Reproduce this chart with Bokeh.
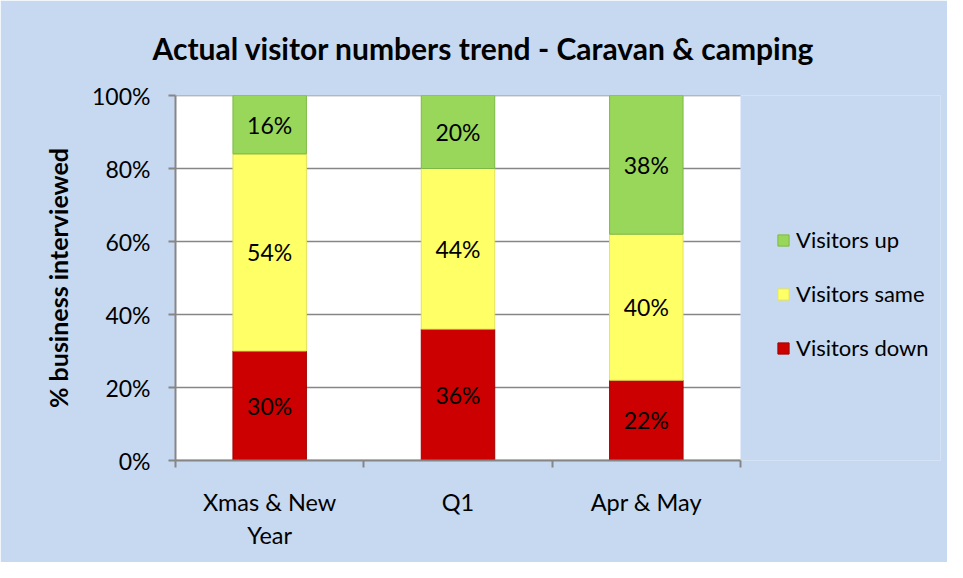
from bokeh.plotting import figure
from bokeh.models import (ColumnDataSource, FixedTicker, Legend, LegendItem,
                          LabelSet, Range1d, BoxAnnotation)
from bokeh.core.properties import value
from bokeh.embed import file_html
from bokeh.resources import INLINE

# ---- data ----
categories = ["Xmas & New Year", "Q1", "Apr & May"]
category_labels = ["Xmas & New\nYear", "Q1", "Apr & May"]
series_names = ["Visitors down", "Visitors same", "Visitors up"]
visitors_down = [30, 36, 22]
visitors_same = [54, 44, 40]
visitors_up = [16, 20, 38]
y_ticks = [0, 20, 40, 60, 80, 100]
y_tick_labels = ["0%", "20%", "40%", "60%", "80%", "100%"]

colors = ["#CC0000", "#FFFF66", "#99D75A"]
line_colors = ["#A00000", "#E3E35A", "#7DB845"]
FONT = "Lato"
BG = "#C6D9F0"
grey = "#868686"

# layout geometry (pixels)
W, H = 947, 562
LEFT, TOP, BOTTOM = 175, 95, 102
PLOT_W = 565          # width of the white plotting area
RIGHT = 7             # frame extends under the legend
frame_w = W - LEFT - RIGHT
n = len(categories)
x_end = n * frame_w / PLOT_W

xpos = [i + 0.5 for i in range(n)]
keys = ["down", "same", "up"]
vals = [visitors_down, visitors_same, visitors_up]
data = {"x": xpos}
base = [0] * n
for k, v in zip(keys, vals):
    data[k] = v
    data[k + "_mid"] = [b + val / 2 for b, val in zip(base, v)]
    data[k + "_txt"] = [f"{val}%" for val in v]
    base = [b + val for b, val in zip(base, v)]
source = ColumnDataSource(data)

p = figure(width=W, height=H, output_backend="svg", toolbar_location=None,
           x_range=Range1d(0, x_end), y_range=Range1d(0, 100),
           min_border_left=LEFT, min_border_right=RIGHT, min_border_top=TOP,
           min_border_bottom=BOTTOM)
p.border_fill_color = BG
p.background_fill_color = BG
p.outline_line_color = None

# white plotting area
p.add_layout(BoxAnnotation(left=0, right=n, bottom=0, top=100,
                           fill_color="white", fill_alpha=1, line_color=None,
                           level="underlay"))
# gridlines restricted to plotting area
p.segment(x0=[0] * len(y_ticks), x1=[n] * len(y_ticks), y0=y_ticks, y1=y_ticks,
          line_color=grey, line_width=1.5)

rs = p.vbar_stack(keys, x="x", width=0.39, source=source,
                  fill_color=colors, line_color=line_colors, line_width=1)

for k in keys:
    p.add_layout(LabelSet(x="x", y=k + "_mid", text=k + "_txt", source=source,
                          text_align="center", text_baseline="middle",
                          text_font=value(FONT), text_font_size="23px",
                          text_color="black"))

# x axis
xa = p.below[0]
xa.bounds = (0, n)
xa.ticker = FixedTicker(ticks=xpos, minor_ticks=list(range(n + 1)))
xa.major_label_overrides = {x: lab for x, lab in zip(xpos, category_labels)}
xa.major_tick_line_color = None
xa.major_tick_in = 0
xa.major_tick_out = 0
xa.minor_tick_in = 0
xa.minor_tick_out = 7
xa.minor_tick_line_color = grey
xa.minor_tick_line_width = 2
xa.axis_line_color = grey
xa.axis_line_width = 2
xa.major_label_standoff = 20
xa.major_label_text_font = FONT
xa.major_label_text_font_size = "23.5px"
xa.major_label_text_color = "black"

# y axis
ya = p.left[0]
ya.ticker = FixedTicker(ticks=y_ticks)
ya.major_label_overrides = {t: lab for t, lab in zip(y_ticks, y_tick_labels)}
ya.major_tick_in = 0
ya.major_tick_out = 7
ya.major_tick_line_color = grey
ya.major_tick_line_width = 2
ya.minor_tick_line_color = None
ya.axis_line_color = grey
ya.axis_line_width = 2
ya.major_label_standoff = 18
ya.major_label_text_font = FONT
ya.major_label_text_font_size = "23px"
ya.major_label_text_color = "black"
ya.axis_label = "% business interviewed"
ya.axis_label_text_font = FONT
ya.axis_label_text_font_size = "25px"
ya.axis_label_text_font_style = "bold"
ya.axis_label_text_color = "black"
ya.axis_label_standoff = 16

p.xgrid.visible = False
p.ygrid.visible = False

# title
p.title.text = "Actual visitor numbers trend - Caravan & camping"
p.title.text_font = FONT
p.title.text_font_size = "30px"
p.title.text_font_style = "bold"
p.title.align = "left"
p.title.vertical_align = "top"
p.title.offset = -23
p.title.standoff = 56
p.title.text_color = "black"

legend = Legend(items=[LegendItem(label=series_names[i], renderers=[rs[i]])
                       for i in reversed(range(len(keys)))],
                location=(PLOT_W + 36, 99), orientation="vertical",
                background_fill_alpha=0, border_line_color=None,
                padding=0, margin=0, spacing=27,
                glyph_width=14, glyph_height=14, label_height=24,
                label_standoff=6,
                label_text_font=FONT, label_text_font_size="22px",
                label_text_color="black")
p.add_layout(legend)

open("out.html", "w").write(file_html(p, INLINE))
